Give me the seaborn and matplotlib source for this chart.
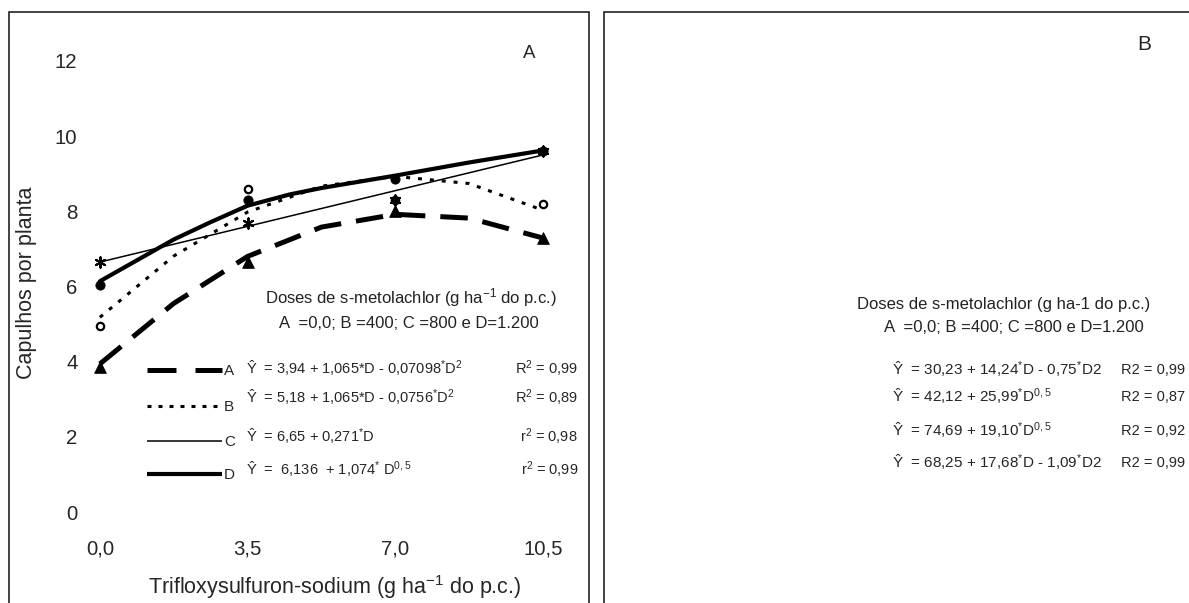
import matplotlib
matplotlib.use("Agg")
import matplotlib.pyplot as plt
import seaborn as sns
import pandas as pd
from matplotlib.patches import Rectangle

# observed means (capulhos por planta) per trifloxysulfuron dose
doses = [0.0, 3.5, 7.0, 10.5]
obs_a = [3.85, 6.65, 8.0, 7.3]
obs_b = [4.95, 8.6, 8.3, 8.2]
obs_c = [6.65, 7.7, 8.3, 9.6]
obs_d = [6.05, 8.3, 8.85, 9.6]

# fitted curves
fit_x = [0.0, 1.75, 3.5, 5.25, 7.0, 8.75, 10.5]
fit_a = [3.94, 5.55, 6.80, 7.58, 7.92, 7.82, 7.29]
fit_b = [5.18, 6.81, 7.98, 8.67, 8.93, 8.74, 8.03]
fit_c_x = [0.0, 10.5]
fit_c = [6.65, 9.50]
fit_d_x = [0.0, 1.75, 2.6, 3.5, 4.5, 5.25, 7.0, 8.75, 10.5]
fit_d = [6.14, 7.25, 7.70, 8.15, 8.45, 8.62, 8.95, 9.30, 9.62]

xticks = [0.0, 3.5, 7.0, 10.5]
xtick_labels = ["0,0", "3,5", "7,0", "10,5"]
yticks = [0, 2, 4, 6, 8, 10, 12]

eq_a = [r"Ŷ  = 3,94 + 1,065*D - 0,07098$\mathregular{^{*}}$D$\mathregular{^{2}}$",
        r"Ŷ  = 5,18 + 1,065*D - 0,0756$\mathregular{^{*}}$D$\mathregular{^{2}}$",
        r"Ŷ  = 6,65 + 0,271$\mathregular{^{*}}$D",
        r"Ŷ  =  6,136  + 1,074$\mathregular{^{*}}$ D$\mathregular{^{0,5}}$"]
r2_a = [r"R$\mathregular{^{2}}$ = 0,99", r"R$\mathregular{^{2}}$ = 0,89",
        r"r$\mathregular{^{2}}$ = 0,98", r"r$\mathregular{^{2}}$ = 0,99"]
eq_b = [r"Ŷ  = 30,23 + 14,24$\mathregular{^{*}}$D - 0,75$\mathregular{^{*}}$D2",
        r"Ŷ  = 42,12 + 25,99$\mathregular{^{*}}$D$\mathregular{^{0,5}}$",
        r"Ŷ  = 74,69 + 19,10$\mathregular{^{*}}$D$\mathregular{^{0,5}}$",
        r"Ŷ  = 68,25 + 17,68$\mathregular{^{*}}$D - 1,09$\mathregular{^{*}}$D2"]
r2_b = ["R2 = 0,99", "R2 = 0,87", "R2 = 0,92", "R2 = 0,99"]
series = ["A", "B", "C", "D"]

sns.set_style("white")
plt.rcParams["font.family"] = ["Liberation Sans", "DejaVu Sans"]
plt.rcParams["mathtext.fontset"] = "custom"
plt.rcParams["mathtext.rm"] = "Liberation Sans"
plt.rcParams["mathtext.it"] = "Liberation Sans:italic"
plt.rcParams["mathtext.bf"] = "Liberation Sans:bold"

W, H = 1189, 603
fig = plt.figure(figsize=(W / 100, H / 100), dpi=100)


def fx(x):
    return x / W


def fy(y):
    return 1 - y / H


# panel frames (cropped at the bottom / right of the page)
fig.add_artist(Rectangle((fx(9), fy(640)), fx(580), fy(12) - fy(640),
                         transform=fig.transFigure, fill=False,
                         edgecolor="#222222", linewidth=1.2))
fig.add_artist(Rectangle((fx(604), fy(640)), fx(700), fy(12) - fy(640),
                         transform=fig.transFigure, fill=False,
                         edgecolor="#222222", linewidth=1.2))

# data axes of panel A
left, right, top, bottom = 83, 576.7, 42.2, 530.8
ax = fig.add_axes([fx(left), fy(bottom), fx(right - left), fy(top) - fy(bottom)])
ax.set_facecolor("none")

sns.lineplot(x=fit_x, y=fit_a, ax=ax, color="black", linewidth=3.6,
             linestyle=(0, (5.5, 3.0)))
sns.lineplot(x=fit_x, y=fit_b, ax=ax, color="black", linewidth=2.2,
             linestyle=(0, (1.3, 2.6)))
sns.lineplot(x=fit_c_x, y=fit_c, ax=ax, color="black", linewidth=1.1)
sns.lineplot(x=fit_d_x, y=fit_d, ax=ax, color="black", linewidth=3.0)

sns.scatterplot(x=doses, y=obs_a, ax=ax, marker="^", s=70, color="black",
                edgecolor="black", zorder=5)
sns.scatterplot(x=doses, y=obs_b, ax=ax, marker="o", s=28, facecolor="white",
                edgecolor="black", linewidth=1.6, zorder=5)
sns.scatterplot(x=doses, y=obs_c, ax=ax, marker=(6, 2, 0), s=55,
                color="black", linewidth=1.5, zorder=5)
sns.scatterplot(x=doses, y=obs_d, ax=ax, marker="o", s=45, color="black",
                edgecolor="black", zorder=5)

ax.set_xlim(-0.4, 11.3)
ax.set_ylim(-0.5, 12.5)
ax.set_xticks(xticks)
ax.set_xticklabels(xtick_labels)
ax.set_yticks(yticks)
ax.tick_params(axis="both", length=0, labelsize=14.7)
ax.tick_params(axis="y", pad=4)
ax.tick_params(axis="x", pad=6)
for s in ax.spines.values():
    s.set_visible(False)
ax.set_xlabel(r"Trifloxysulfuron-sodium (g ha$\mathregular{^{-1}}$ do p.c.)", fontsize=15.5)
ax.set_ylabel("Capulhos por planta", fontsize=15.5)
ax.xaxis.set_label_coords(0.509, -0.086)
ax.yaxis.set_label_coords(-0.093, 0.507)

# panel A annotations
fig.text(fx(529), fy(54), "A", fontsize=13.5, ha="center", va="center")
fig.text(fx(411), fy(298), r"Doses de s-metolachlor (g ha$\mathregular{^{-1}}$ do p.c.)",
         fontsize=12, ha="center", va="center", color="#222222")
fig.text(fx(409), fy(323), "A  =0,0; B =400; C =800 e D=1.200",
         fontsize=12, ha="center", va="center", color="#222222")

leg_y = [370, 406, 441, 474]
txt_y = [369, 398, 437, 470]
leg_styles = [dict(linewidth=3.6, linestyle=(0, (5.8, 3.8))),
              dict(linewidth=2.2, linestyle=(0, (1.3, 2.3))),
              dict(linewidth=1.1, linestyle="-"),
              dict(linewidth=3.0, linestyle="-")]
for i, name in enumerate(series):
    fig.add_artist(plt.Line2D([fx(147), fx(222)], [fy(leg_y[i])] * 2,
                              transform=fig.transFigure, color="black",
                              solid_capstyle="butt", dash_capstyle="butt",
                              **leg_styles[i]))
    fig.text(fx(224), fy(leg_y[i] + 1), name, fontsize=11, ha="left", va="center")
    fig.text(fx(246), fy(txt_y[i]), eq_a[i], fontsize=10.5, ha="left", va="center")
    fig.text(fx(578), fy(txt_y[i]), r2_a[i], fontsize=10.5, ha="right", va="center")

# panel B annotations (text only)
fig.text(fx(1144), fy(44), "B", fontsize=15, ha="center", va="center")
fig.text(fx(857), fy(304), "Doses de s-metolachlor (g ha-1 do p.c.)",
         fontsize=12, ha="left", va="center", color="#222222")
fig.text(fx(884), fy(327), "A  =0,0; B =400; C =800 e D=1.200",
         fontsize=12, ha="left", va="center", color="#222222")
eqb_y = [370, 397, 431, 463]
for i in range(4):
    fig.text(fx(892), fy(eqb_y[i]), eq_b[i], fontsize=11, ha="left", va="center")
    fig.text(fx(1185), fy(eqb_y[i]), r2_b[i], fontsize=10.5, ha="right", va="center")

fig.savefig("out.png", dpi=100)
